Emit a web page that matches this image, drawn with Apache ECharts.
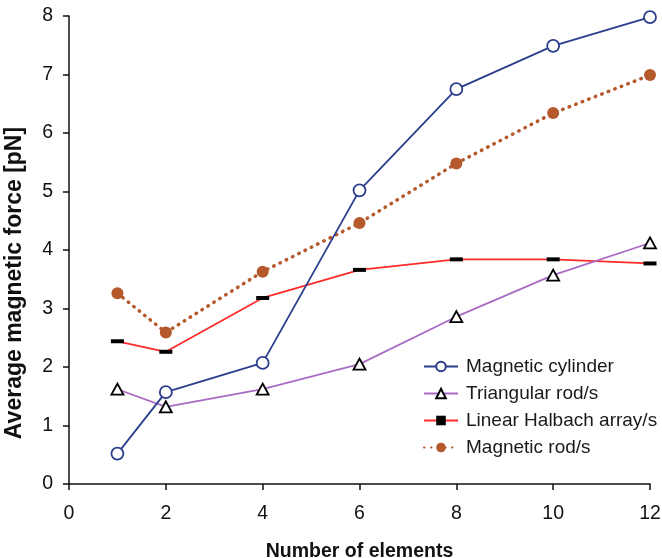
<!DOCTYPE html>
<html><head><meta charset="utf-8">
<script src="https://cdn.jsdelivr.net/npm/echarts@6/dist/echarts.min.js"></script>
<style>html,body{margin:0;padding:0;background:#fff}#c{width:662px;height:558px}</style>
</head><body><div id="c"></div>
<script>
var xValues = [1, 2, 4, 6, 8, 10, 12];
var cylinder = [0.52, 1.57, 2.07, 5.02, 6.75, 7.49, 7.98];
var triangular = [1.62, 1.32, 1.62, 2.05, 2.86, 3.57, 4.12];
var halbach = [2.44, 2.26, 3.18, 3.66, 3.84, 3.84, 3.77];
var rods = [3.26, 2.59, 3.63, 4.46, 5.48, 6.34, 6.99];
var seriesNames = ['Magnetic cylinder', 'Triangular rod/s', 'Linear Halbach array/s', 'Magnetic rod/s'];
var xTicks = [0, 2, 4, 6, 8, 10, 12];
var yTicks = [0, 1, 2, 3, 4, 5, 6, 7, 8];

function pairs(v){ return xValues.map(function(x,i){ return [x, v[i]]; }); }
var font = '"Liberation Sans", Arial, sans-serif';
var chart = echarts.init(document.getElementById('c'));
chart.setOption({
  animation: false,
  backgroundColor: '#fff',
  grid: {left: 69, right: 12, top: 16, bottom: 74, containLabel: false, outerBoundsMode: 'none'},
  legend: {
    orient: 'vertical', left: 418, top: 352, itemWidth: 34, itemHeight: 12, itemGap: 8,
    textStyle: {fontFamily: font, fontSize: 19, color: '#1a1a1a', padding: [0,0,0,3]},
    data: seriesNames
  },
  xAxis: {
    type: 'value', min: xTicks[0], max: xTicks[xTicks.length-1], interval: 2,
    name: 'Number of elements', nameLocation: 'middle', nameGap: 58,
    nameTextStyle: {fontFamily: font, fontSize: 19.5, fontWeight: 'bold', color: '#111'},
    axisLine: {lineStyle: {color: '#111', width: 1.5}},
    axisTick: {show: true, length: 6, lineStyle: {color: '#111', width: 1.5}},
    axisLabel: {fontFamily: font, fontSize: 19.5, color: '#111', margin: 20},
    splitLine: {show: false}
  },
  yAxis: {
    type: 'value', min: yTicks[0], max: yTicks[yTicks.length-1], interval: 1,
    name: 'Average magnetic force [pN]', nameLocation: 'middle', nameGap: 43,
    nameTextStyle: {fontFamily: font, fontSize: 23, fontWeight: 'bold', color: '#111', padding: [0, 66, 0, 0]},
    axisLine: {show: true, lineStyle: {color: '#111', width: 1.5}},
    axisTick: {show: true, length: 6, lineStyle: {color: '#111', width: 1.5}},
    axisLabel: {fontFamily: font, fontSize: 19.5, color: '#111', margin: 16},
    splitLine: {show: false}
  },
  series: [
    {name: seriesNames[0], type: 'line', data: pairs(cylinder), symbol: 'circle', symbolSize: 12,
     lineStyle: {color: '#2b3d8c', width: 1.8}, itemStyle: {color: '#fff', borderColor: '#2b3d8c', borderWidth: 1.8}, z: 4},
    {name: seriesNames[1], type: 'line', data: pairs(triangular), symbol: 'triangle', symbolSize: [12, 11],
     lineStyle: {color: '#a96bc4', width: 1.8}, itemStyle: {color: '#fff', borderColor: '#000', borderWidth: 1.8}, z: 3},
    {name: seriesNames[2], type: 'line', data: pairs(halbach), symbol: 'rect', symbolSize: [13, 4],
     lineStyle: {color: '#ff2a2a', width: 1.8}, itemStyle: {color: '#000', borderWidth: 0}, z: 2},
    {name: seriesNames[3], type: 'line', data: pairs(rods), symbol: 'circle', symbolSize: 12,
     lineStyle: {color: '#b5582c', width: 3.5, type: [0.5, 6.5], cap: 'round'}, itemStyle: {color: '#b5582c', borderWidth: 0}, z: 1}
  ]
});
</script></body></html>
